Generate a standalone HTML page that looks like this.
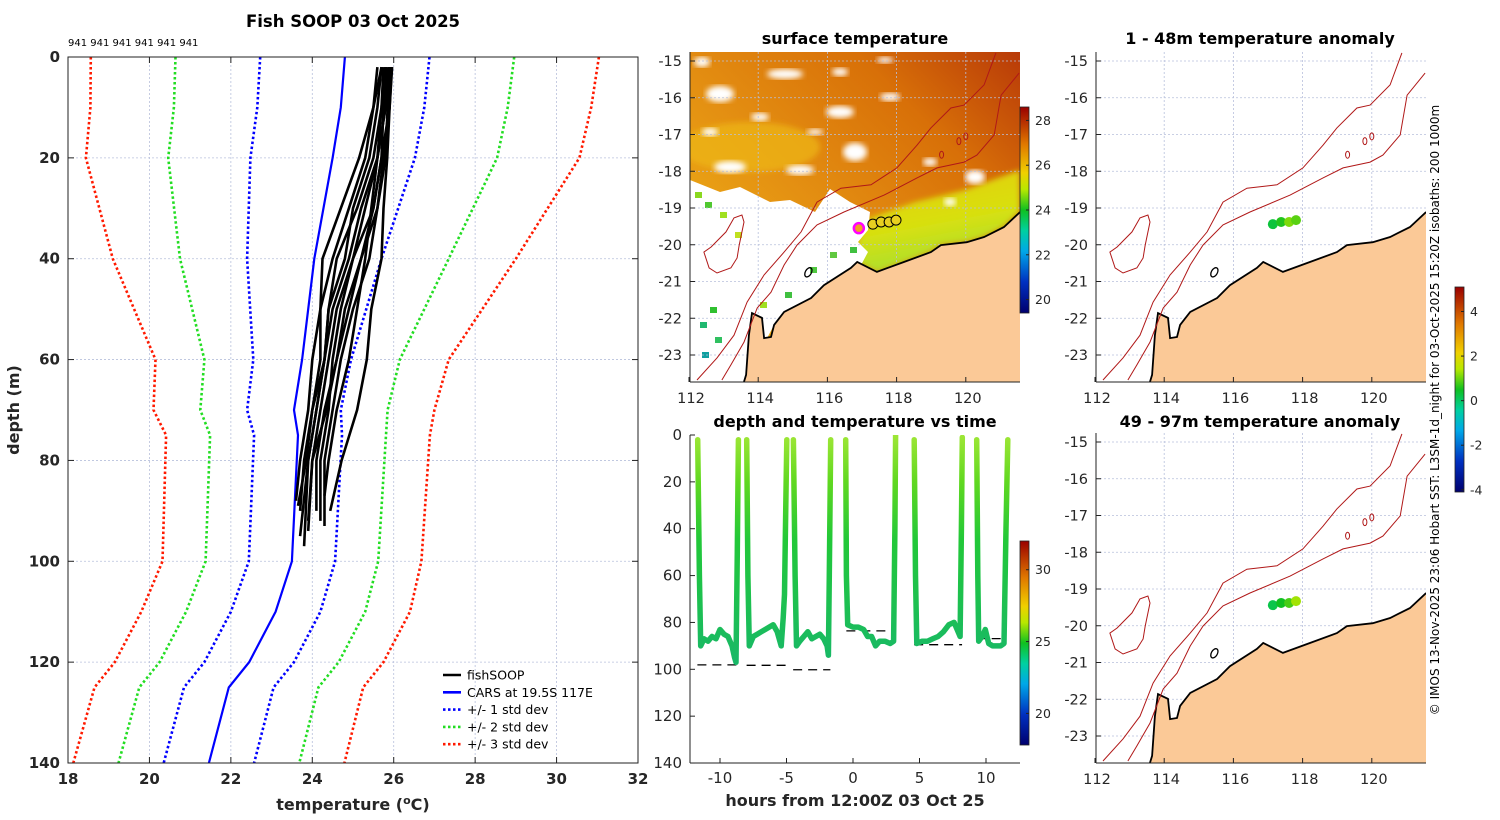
<!DOCTYPE html>
<html><head><meta charset="utf-8"><style>
html,body{margin:0;padding:0;background:#fff;}
svg{display:block;font-family:"DejaVu Sans","Liberation Sans",sans-serif;}
</style></head><body>
<svg id="fig" width="1500" height="820" viewBox="0 0 1500 820" xmlns="http://www.w3.org/2000/svg">
<defs>
<linearGradient id="cmapV" x1="0" y1="1" x2="0" y2="0">
<stop offset="0" stop-color="#00006e"/><stop offset="0.15" stop-color="#0030c0"/><stop offset="0.3" stop-color="#00a8e8"/><stop offset="0.4" stop-color="#00d0a0"/><stop offset="0.5" stop-color="#10c020"/><stop offset="0.6" stop-color="#b8e800"/><stop offset="0.68" stop-color="#f0d000"/><stop offset="0.82" stop-color="#e07800"/><stop offset="1" stop-color="#9a0000"/>
</linearGradient>
<linearGradient id="traceGrad" gradientUnits="userSpaceOnUse" x1="0" y1="436" x2="0" y2="665">
<stop offset="0" stop-color="#9de636"/><stop offset="0.2" stop-color="#60d820"/><stop offset="0.45" stop-color="#22c838"/><stop offset="1" stop-color="#18b868"/>
</linearGradient>
<linearGradient id="sstBase" x1="0" y1="1" x2="1" y2="0">
<stop offset="0" stop-color="#f2c018"/><stop offset="0.45" stop-color="#e49012"/><stop offset="0.75" stop-color="#d87008"/><stop offset="1" stop-color="#b83a08"/>
</linearGradient>
<linearGradient id="sstBand" x1="0" y1="0" x2="0.3" y2="1">
<stop offset="0" stop-color="#e8c808"/><stop offset="0.6" stop-color="#d8e010"/><stop offset="1" stop-color="#a8e030"/>
</linearGradient>
<filter id="blur3"><feGaussianBlur stdDeviation="3"/></filter>
<clipPath id="clipSST"><rect x="690" y="52" width="330" height="330"/></clipPath>
<clipPath id="clipA1"><rect x="1096" y="52" width="330" height="330"/></clipPath>
<clipPath id="clipA2"><rect x="1096" y="433" width="330" height="330"/></clipPath>
<clipPath id="clipP1"><rect x="68" y="57" width="570" height="706"/></clipPath>
<clipPath id="clipP3"><rect x="690" y="435" width="330" height="328"/></clipPath>
</defs>
<g id="layer"></g>
</svg>
<script>
// ---------------- DATA ----------------
const profDepths=[2,10,20,30,40,50,60,70,80];
const profTemps=[
[25.6,25.5,25.15,24.7,24.25,24.2,24.2,24.0,23.8],
[25.7,25.5,25.3,24.9,24.5,24.2,24.0,23.9,23.7],
[25.8,25.7,25.5,25.1,24.6,24.4,24.3,24.1,23.9],
[25.9,25.8,25.6,25.3,25.0,24.6,24.4,24.2,24.0],
[25.95,25.9,25.7,25.5,25.2,24.9,24.6,24.3,24.1],
[25.9,25.85,25.8,25.6,25.4,25.0,24.7,24.5,24.3],
[25.96,25.9,25.84,25.75,25.7,25.45,25.34,25.1,24.72],
[25.8,25.75,25.7,25.5,25.0,24.7,24.5,24.4,24.2],
[25.7,25.6,25.4,25.0,24.8,24.4,24.3,24.1,23.9],
[25.85,25.8,25.6,25.45,25.3,25.1,24.9,24.6,24.4],
[25.75,25.7,25.6,25.2,24.9,24.5,24.3,24.0,23.85],
[25.9,25.9,25.75,25.6,25.2,24.8,24.6,24.35,24.0]
];
const profBottomDepth=[90,88,97,92,90,93,90,92,95,87,89,94];
const profBottomTemp=[23.7,23.6,23.8,23.9,24.1,24.3,24.44,24.2,23.7,24.3,23.65,23.9];

const carsDepth=[0,10,20,40,60,70,75,100,110,120,125,140];
const carsMean=[24.8,24.7,24.5,24.05,23.75,23.55,23.65,23.5,23.1,22.45,21.95,21.46];
const carsStd=[2.08,2.05,2.02,1.65,1.2,1.15,1.08,1.06,1.1,1.1,1.1,1.11];

const xTicks1=[18,20,22,24,26,28,30,32];
const yTicks1=[0,20,40,60,80,100,120,140];

const tow1T=[-11.68,-11.55,-11.45,-11.2,-10.9,-10.6,-10.3,-10.0,-9.7,-9.4,-9.1,-8.9,-8.8,-8.7,-8.62];
const tow1D=[2,60,90,87,88,86,87,83,85,86,90,95,97,50,2];
const tow2T=[-7.99,-7.9,-7.8,-7.5,-7.2,-6.9,-6.6,-6.3,-6.0,-5.7,-5.4,-5.25,-5.15,-5.05,-4.98];
const tow2D=[2,60,90,86,85,84,83,82,81,84,90,78,68,30,2];
const tow3T=[-4.48,-4.35,-4.25,-4.0,-3.7,-3.4,-3.1,-2.8,-2.5,-2.2,-1.95,-1.85,-1.78,-1.68];
const tow3D=[2,60,90,88,86,84,87,86,85,87,90,94,60,2];
const tow4T=[-0.55,-0.5,-0.4,0,0.4,0.8,1.1,1.4,1.7,2.0,2.4,2.8,3.05,3.15,3.2];
const tow4D=[2,60,81,82,82,83,86,86,90,88,88,89,88,40,0];
const tow5T=[4.6,4.7,4.8,5.2,5.6,6.0,6.4,6.8,7.2,7.6,7.9,8.05,8.15,8.22];
const tow5D=[2,60,89,88,88,87,86,84,81,80,84,86,40,1];
const tow6T=[9.3,9.38,9.45,9.7,9.95,10.2,10.5,10.8,11.1,11.35,11.5,11.64];
const tow6D=[2,60,88,86,83,89,90,90,90,89,40,2];
const bathyStart=[-11.7,-8.0,-4.5,-0.5,4.6,9.3];
const bathyEnd=[-8.6,-5.0,-1.7,3.2,8.2,11.3];
const bathyDepth=[98.1,98.3,100.2,83.6,89.5,86.9];
const xTicks3=[-10,-5,0,5,10];
const yTicks3=[0,20,40,60,80,100,120,140];

const coastLon=[121.57,121.10,120.53,120.03,119.28,118.99,118.21,117.43,116.86,116.68,115.90,115.53,114.75,114.46,114.37,114.17,114.11,113.82,113.73,113.65,113.59];
const coastLat=[-19.11,-19.52,-19.79,-19.93,-20.01,-20.20,-20.47,-20.74,-20.47,-20.63,-21.10,-21.45,-21.83,-22.18,-22.51,-22.54,-21.99,-21.86,-22.46,-23.54,-23.73];
const iso1000Lon=[120.87,120.53,119.95,119.57,118.99,118.59,118.01,117.26,116.39,115.70,115.24,114.75,114.17,113.68,113.30,112.81,112.23];
const iso1000Lat=[-14.78,-15.65,-16.20,-16.28,-16.82,-17.29,-17.91,-18.37,-18.46,-18.84,-19.65,-20.20,-20.82,-21.56,-22.46,-23.08,-23.68];
const iso200Lon=[121.54,121.02,120.82,120.32,119.95,119.17,118.59,117.64,116.48,115.70,115.12,114.75,114.37,113.97,113.59,113.21,112.95];
const iso200Lat=[-15.33,-15.93,-17.01,-17.56,-17.75,-17.91,-18.18,-18.65,-19.11,-19.46,-20.01,-20.55,-21.29,-21.72,-22.65,-23.27,-23.68];
const islandLon=[113.53,113.59,113.45,113.39,113.21,112.81,112.58,112.43,112.64,113.07,113.30];
const islandLat=[-19.19,-19.38,-20.01,-20.36,-20.63,-20.77,-20.63,-20.20,-20.06,-19.65,-19.27];
const fishLon=[117.14,117.38,117.61,117.81];
const fishLat=[-19.44,-19.38,-19.38,-19.33];
const anom1=[0.3,0.6,1.1,0.9];
const anom2=[0.2,0.5,0.8,1.3];
const lonTicks=[112,114,116,118,120];
const latTicks=[-15,-16,-17,-18,-19,-20,-21,-22,-23];
const sstTicks=[28,26,24,22,20];
const anomTicks=[4,2,0,-2,-4];
const dtTicks=[30,25,20];

// ---------------- HELPERS ----------------
const NS="http://www.w3.org/2000/svg";
const root=document.getElementById('layer');
function mk(tag,attrs,parent,text){const e=document.createElementNS(NS,tag);for(const k in attrs)e.setAttribute(k,attrs[k]);if(text!==undefined)e.textContent=text;(parent||root).appendChild(e);return e;}
function pts(xs,ys){return xs.map((x,i)=>x.toFixed(1)+','+ys[i].toFixed(1)).join(' ');}

// ---------------- PANEL 1 ----------------
const px1=t=>68+(t-18)*570/14, py1=d=>57+d*706/140;
const g1=mk('g',{});


xTicks1.forEach(v=>{const l=mk('line',{x1:px1(v),x2:px1(v),y1:57,y2:763,stroke:'#b8c0dc','stroke-width':0.8,'stroke-dasharray':'2,2'},g1);
});
yTicks1.forEach(v=>{const l=mk('line',{x1:68,x2:638,y1:py1(v),y2:py1(v),stroke:'#b8c0dc','stroke-width':0.8,'stroke-dasharray':'2,2'},g1);
});
const clip1=mk('g',{'clip-path':'url(#clipP1)'},g1);
const stdCols=['#0000ff','#22dd22','#ff1a00'];
[1,2,3].forEach(k=>{[-1,1].forEach(s=>{
 const xs=carsMean.map((m,i)=>px1(m+s*k*carsStd[i])), ys=carsDepth.map(py1);
 const p=mk('polyline',{points:pts(xs,ys),fill:'none',stroke:stdCols[k-1],'stroke-width':2.6,'stroke-dasharray':'2.5,2.5'},clip1);
 });});
const cm=mk('polyline',{points:pts(carsMean.map(px1),carsDepth.map(py1)),fill:'none',stroke:'#0000ff','stroke-width':2.2},clip1);

profTemps.forEach((tp,i)=>{
 const xs=tp.concat([profBottomTemp[i]]).map(px1), ys=profDepths.concat([profBottomDepth[i]]).map(py1);
 const p=mk('polyline',{points:pts(xs,ys),fill:'none',stroke:'#000','stroke-width':2.6,'stroke-linejoin':'round'},clip1);
 });
mk('rect',{x:68,y:57,width:570,height:706,fill:'none',stroke:'#222','stroke-width':1},g1);
xTicks1.forEach(v=>{mk('line',{x1:px1(v),x2:px1(v),y1:763,y2:757,stroke:'#222'},g1);mk('line',{x1:px1(v),x2:px1(v),y1:57,y2:63,stroke:'#222'},g1);
 const t=mk('text',{x:px1(v),y:784,'text-anchor':'middle','font-size':15,'font-weight':'bold',fill:'#262626'},g1,v);
 });
yTicks1.forEach(v=>{mk('line',{x1:68,x2:74,y1:py1(v),y2:py1(v),stroke:'#222'},g1);mk('line',{x1:638,x2:632,y1:py1(v),y2:py1(v),stroke:'#222'},g1);
 const t=mk('text',{x:60,y:py1(v)+5,'text-anchor':'end','font-size':15,'font-weight':'bold',fill:'#262626'},g1,v);
 });
let t1=mk('text',{x:353,y:27,'text-anchor':'middle','font-size':16.5,'font-weight':'bold',fill:'#000'},g1,'Fish SOOP 03 Oct 2025');

t1=mk('text',{x:68,y:46,'font-size':10,fill:'#000'},g1,'941 941 941 941 941 941');

t1=mk('text',{x:0,y:0,'text-anchor':'middle','font-size':16,'font-weight':'bold',fill:'#262626',transform:'translate(19,410) rotate(-90)'},g1,'depth (m)');

t1=mk('text',{x:353,y:810,'text-anchor':'middle','font-size':16,'font-weight':'bold',fill:'#262626'},g1);
t1.innerHTML='temperature (<tspan dy="-6" font-size="11">o</tspan><tspan dy="6">C)</tspan>';

const legItems=[['fishSOOP','#000',''],['CARS at 19.5S 117E','#0000ff',''],['+/- 1 std dev','#0000ff','2.5,2.5'],['+/- 2 std dev','#22dd22','2.5,2.5'],['+/- 3 std dev','#ff1a00','2.5,2.5']];
const leg=mk('g',{},g1);
legItems.forEach((it,i)=>{const y=675+i*17.3;
 const le=mk('g',{},leg);
 mk('line',{x1:443,x2:461,y1:y,y2:y,stroke:it[1],'stroke-width':2.6,'stroke-dasharray':it[2]},le);
 mk('text',{x:467,y:y+4.5,'font-size':12.5,fill:'#000'},le,it[0]);});

// ---------------- MAP HELPERS ----------------
function cmapColor(v,lo,hi){const stops=[[0,[0,0,110]],[0.15,[0,48,192]],[0.3,[0,168,232]],[0.4,[0,208,160]],[0.5,[16,192,32]],[0.6,[184,232,0]],[0.68,[240,208,0]],[0.82,[224,120,0]],[1,[154,0,0]]];
 let f=Math.max(0,Math.min(1,(v-lo)/(hi-lo)));for(let i=1;i<stops.length;i++){if(f<=stops[i][0]){const a=stops[i-1],b=stops[i],u=(f-a[0])/(b[0]-a[0]);const c=a[1].map((q,j)=>Math.round(q+(b[1][j]-q)*u));return 'rgb('+c.join(',')+')';}}return 'rgb(154,0,0)';}
function drawMap(x0,y0,clipId,name,bg){
 const mx=lon=>x0-1+(lon-112)*34.6, my=lat=>y0+9+(-15-lat)*36.75;
 const g=mk('g',{});
 const c=mk('g',{'clip-path':'url(#'+clipId+')'},g);
 if(bg)bg(c);
 lonTicks.forEach(v=>{const l=mk('line',{x1:mx(v),x2:mx(v),y1:y0,y2:y0+330,stroke:'#b8c0dc','stroke-width':0.8,'stroke-dasharray':'2,2'},c);});
 latTicks.forEach(v=>{const l=mk('line',{x1:x0,x2:x0+330,y1:my(v),y2:my(v),stroke:'#b8c0dc','stroke-width':0.8,'stroke-dasharray':'2,2'},c);});
 const landX=coastLon.map(mx).concat([x0+340,x0+340]), landY=coastLat.map(my).concat([y0+340,my(coastLat[0])]);
 const land=mk('polygon',{points:pts(landX,landY),fill:'#fbc997',stroke:'none'},c);
 const cl=mk('polyline',{points:pts(coastLon.map(mx),coastLat.map(my)),fill:'none',stroke:'#000','stroke-width':1.8},c);
 const i1=mk('polyline',{points:pts(iso200Lon.map(mx),iso200Lat.map(my)),fill:'none',stroke:'#b01818','stroke-width':1},c);
 const i2=mk('polyline',{points:pts(iso1000Lon.map(mx),iso1000Lat.map(my)),fill:'none',stroke:'#b01818','stroke-width':1},c);
 const isl=mk('polygon',{points:pts(islandLon.map(mx),islandLat.map(my)),fill:'none',stroke:'#b01818','stroke-width':1},c);
 [[119.3,-17.55],[119.8,-17.18],[120.0,-17.05]].forEach(p=>{mk('ellipse',{cx:mx(p[0]),cy:my(p[1]),rx:2,ry:3.5,fill:'none',stroke:'#b01818','stroke-width':1},c);});
 mk('ellipse',{cx:mx(115.45),cy:my(-20.75),rx:3,ry:5,fill:'none',stroke:'#000','stroke-width':1.3,transform:'rotate(30 '+mx(115.45)+' '+my(-20.75)+')'},c);
 mk('line',{x1:x0,x2:x0,y1:y0,y2:y0+330,stroke:'#222'},g);mk('line',{x1:x0,x2:x0+330,y1:y0+330,y2:y0+330,stroke:'#222'},g);
 latTicks.forEach(v=>{mk('line',{x1:x0,x2:x0+5,y1:my(v),y2:my(v),stroke:'#222'},g);
  const t=mk('text',{x:x0-8,y:my(v)+5,'text-anchor':'end','font-size':14.5,fill:'#262626'},g,v);});
 lonTicks.forEach(v=>{mk('line',{x1:mx(v),x2:mx(v),y1:y0+330,y2:y0+325,stroke:'#222'},g);
  const t=mk('text',{x:mx(v)+2,y:y0+351,'text-anchor':'middle','font-size':14.5,fill:'#262626'},g,v);});
 return {g,c,mx,my};
}

// SST background (raster approximation)
function sstBg(c){
 const X=v=>690+v, Y=v=>52+v;
 mk('rect',{x:690,y:52,width:330,height:330,fill:'url(#sstBase)'},c);
 mk('polygon',{points:[[175,168],[225,150],[275,138],[330,118],[330,160],[314,175],[294,185],[277,190],[251,193],[241,200],[214,210],[187,220],[167,210],[168,188]].map(p=>X(p[0])+','+Y(p[1])).join(' '),fill:'url(#sstBand)',filter:'url(#blur3)'},c);
 mk('ellipse',{cx:X(60),cy:Y(95),rx:70,ry:25,fill:'#eeb818',opacity:0.7,filter:'url(#blur3)'},c);
 mk('polygon',{points:[[0,128],[30,140],[50,135],[80,150],[100,148],[125,160],[140,137],[160,150],[180,160],[178,178],[168,190],[178,200],[170,215],[161,216],[134,233],[121,246],[94,260],[84,273],[54,330],[0,330]].map(p=>X(p[0])+','+Y(p[1])).join(' '),fill:'#fff'},c);
 [[30,42,14,8],[95,22,18,5],[150,60,14,6],[150,20,8,4],[200,45,10,4],[40,115,16,6],[165,100,12,9],[110,118,14,5],[285,125,10,7],[240,110,7,4],[70,65,9,4],[12,10,8,5],[195,8,8,3],[260,150,6,4],[20,80,8,4],[125,80,8,3]].forEach(e=>{mk('ellipse',{cx:X(e[0]),cy:Y(e[1]),rx:e[2],ry:e[3],fill:'#fff',filter:'url(#blur3)'},c);});
 [[5,140,'#8ad820'],[15,150,'#50c830'],[10,270,'#20b870'],[25,285,'#30c060'],[12,300,'#10a0a0'],[20,255,'#30c030'],[70,250,'#a0e020'],[95,240,'#40c040'],[120,215,'#50c840'],[140,200,'#60c840'],[150,225,'#20c070'],[160,195,'#40c040'],[30,160,'#a0e020'],[45,180,'#c0e020']].forEach(p=>{mk('rect',{x:X(p[0]),y:Y(p[1]),width:7,height:6,fill:p[2]},c);});
}

// ---------------- PANEL 2: SST ----------------
const m2=drawMap(690,52,'clipSST','sst-map',sstBg);
let tt=mk('text',{x:855,y:44,'text-anchor':'middle','font-size':16,'font-weight':'bold',fill:'#000'},m2.g,'surface temperature');

fishLon.forEach((lo,i)=>{const d=mk('circle',{cx:m2.mx(lo)+6,cy:m2.my(fishLat[i]),r:5,fill:'#e8d020',stroke:'#000','stroke-width':1},m2.c);});
tt=mk('circle',{cx:m2.mx(fishLon[0])-8,cy:m2.my(fishLat[0])+4,r:5,fill:'#f0a020',stroke:'#ff00ff','stroke-width':2.5},m2.c);

function colorbar(x,y,h,lo,hi,ticks,grad,name){
 const g=mk('g',{});
 mk('rect',{x:x,y:y,width:9,height:h,fill:'url(#'+grad+')',stroke:'#222','stroke-width':0.8},g);
 ticks.forEach(v=>{const yy=y+h-(v-lo)/(hi-lo)*h;mk('line',{x1:x+6,x2:x+9,y1:yy,y2:yy,stroke:'#222'},g);
  const t=mk('text',{x:x+15,y:yy+4.5,'font-size':12.5,fill:'#262626'},g,v);});
}
colorbar(1020,107,206,19.4,28.6,sstTicks,'cmapV','sst-colorbar');

// ---------------- PANEL 3: depth-time ----------------
const px3=t=>853+t*13.3, py3=d=>435+d*2.343;
const g3=mk('g',{});
const c3=mk('g',{'clip-path':'url(#clipP3)'},g3);
bathyStart.forEach((s,i)=>{const l=mk('line',{x1:px3(s),x2:px3(bathyEnd[i]),y1:py3(bathyDepth[i]),y2:py3(bathyDepth[i]),stroke:'#000','stroke-width':1.3,'stroke-dasharray':'9,6'},c3);
 });
[[tow1T,tow1D],[tow2T,tow2D],[tow3T,tow3D],[tow4T,tow4D],[tow5T,tow5D],[tow6T,tow6D]].forEach(tw=>{
 const p=mk('polyline',{points:pts(tw[0].map(px3),tw[1].map(py3)),fill:'none',stroke:'url(#traceGrad)','stroke-width':5.5,'stroke-linejoin':'round','stroke-linecap':'round'},c3);
 });
mk('line',{x1:690,x2:690,y1:435,y2:763,stroke:'#222'},g3);mk('line',{x1:690,x2:1020,y1:763,y2:763,stroke:'#222'},g3);
yTicks3.forEach(v=>{mk('line',{x1:690,x2:695,y1:py3(v),y2:py3(v),stroke:'#222'},g3);
 const t=mk('text',{x:682,y:py3(v)+5,'text-anchor':'end','font-size':15,fill:'#262626'},g3,v);});
xTicks3.forEach(v=>{mk('line',{x1:px3(v),x2:px3(v),y1:763,y2:758,stroke:'#222'},g3);
 const t=mk('text',{x:px3(v),y:783,'text-anchor':'middle','font-size':15,fill:'#262626'},g3,v);});
tt=mk('text',{x:855,y:427,'text-anchor':'middle','font-size':16,'font-weight':'bold',fill:'#000'},g3,'depth and temperature vs time');

tt=mk('text',{x:855,y:806,'text-anchor':'middle','font-size':16,'font-weight':'bold',fill:'#262626'},g3,'hours from 12:00Z 03 Oct 25');

colorbar(1020,541,204,17.8,32,dtTicks,'cmapV','depth-time-colorbar');

// ---------------- PANELS 4,5: anomaly maps ----------------
const m4=drawMap(1096,52,'clipA1','anomaly-map-shallow',null);
tt=mk('text',{x:1260,y:44,'text-anchor':'middle','font-size':16,'font-weight':'bold',fill:'#000'},m4.g,'1 - 48m temperature anomaly');

fishLon.forEach((lo,i)=>{const d=mk('circle',{cx:m4.mx(lo),cy:m4.my(fishLat[i]),r:5,fill:cmapColor(anom1[i],-4.1,5.1)},m4.c);});
const m5=drawMap(1096,433,'clipA2','anomaly-map-deep',null);
tt=mk('text',{x:1260,y:427,'text-anchor':'middle','font-size':16,'font-weight':'bold',fill:'#000'},m5.g,'49 - 97m temperature anomaly');

fishLon.forEach((lo,i)=>{const d=mk('circle',{cx:m5.mx(lo),cy:m5.my(fishLat[i]),r:5,fill:cmapColor(anom2[i],-4.1,5.1)},m5.c);});
colorbar(1455,287,205,-4.1,5.1,anomTicks,'cmapV','anomaly-colorbar');
tt=mk('text',{x:0,y:0,'text-anchor':'middle','font-size':12,fill:'#000',transform:'translate(1439,410) rotate(-90)'},null,'\u00A9 IMOS 13-Nov-2025 23:06 Hobart SST: L3SM-1d_night for 03-Oct-2025 15:20Z isobaths: 200  1000m');

</script>
</body></html>
